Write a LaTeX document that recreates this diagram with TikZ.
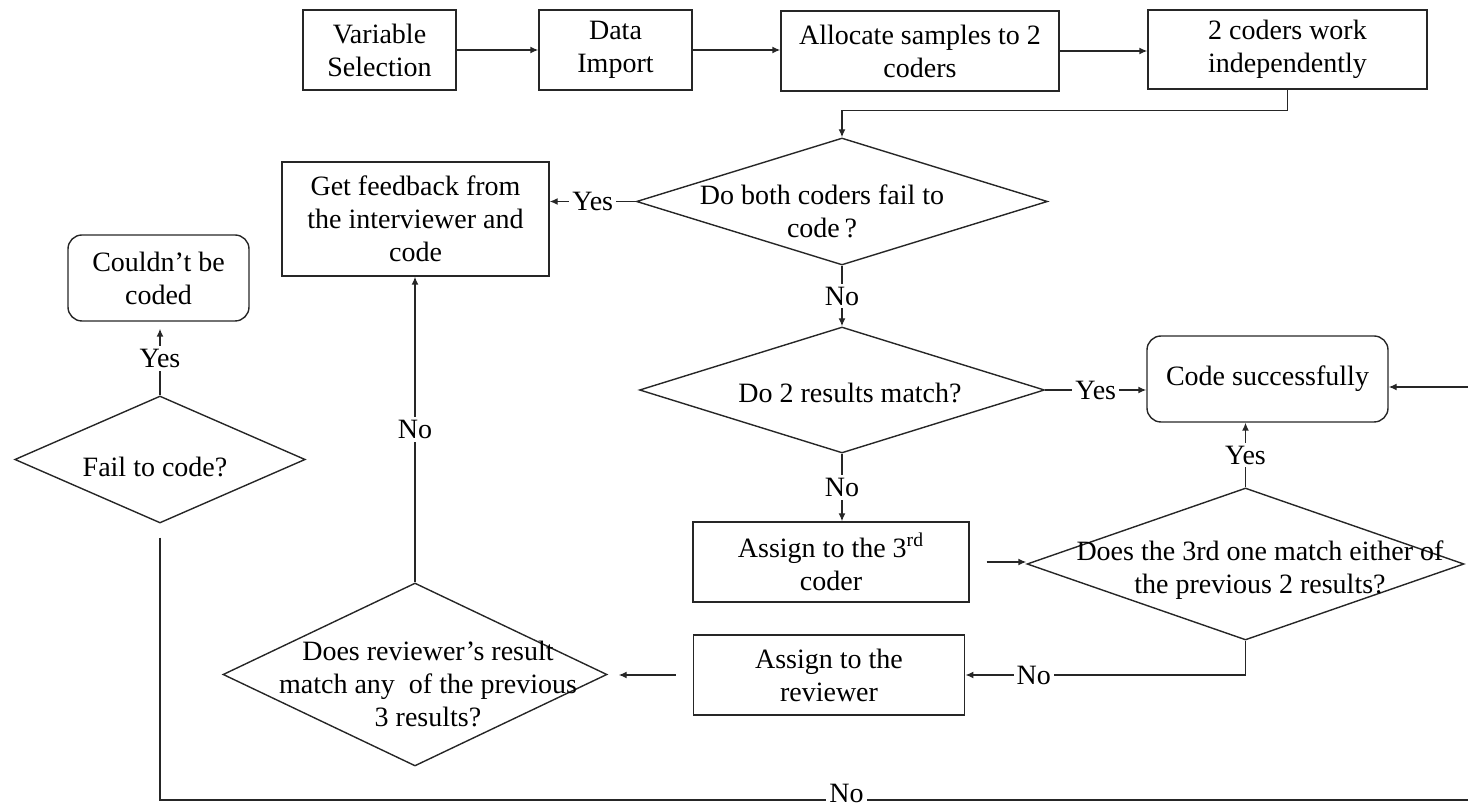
\documentclass[tikz,border=0pt]{standalone}
\usepackage{fontspec}
\setmainfont{Liberation Serif}
\usetikzlibrary{shapes.geometric,arrows.meta,calc}
\begin{document}
\begin{tikzpicture}[x=0.5pt,y=-0.5pt,
  every node/.style={font=\fontsize{14}{16.5}\selectfont},
  box/.style={draw=black!85, line width=0.7pt, rectangle, inner sep=0pt, align=center},
  rbox/.style={box, rounded corners=7pt},
  dia/.style={draw=black!85, line width=0.7pt, diamond, inner sep=0pt},
  txt/.style={align=center, inner sep=0pt},
  lab/.style={fill=white, inner sep=1.5pt},
  arr/.style={draw=black!85, line width=0.7pt, -{Latex[length=4pt,width=3.5pt]}}]
\useasboundingbox (0,0) rectangle (1468,806);

\node[box, minimum width=76.5pt, minimum height=40pt] (vs) at (379.5,50) {Variable\\Selection};
\node[box, minimum width=76.5pt, minimum height=40pt] (di) at (615.5,50) {Data\\Import};
\node[box, minimum width=139pt, minimum height=40pt] (al) at (920,51) {Allocate samples to 2\\coders};
\node[box, minimum width=139.5pt, minimum height=39.5pt] (tc) at (1287.5,49.5) {2 coders work\\independently};

\node[dia, minimum width=205.5pt, minimum height=63.5pt] (d1) at (842,201.5) {};
\node[txt] (d1t) at (822,211.5) {Do both coders fail to\\code\,?};
\node[box, minimum width=133.5pt, minimum height=57pt] (fb) at (415.5,219) {Get feedback from\\the interviewer and\\code};
\node[rbox, minimum width=90.5pt, minimum height=43pt] (cb) at (158.5,278) {Couldn’t be\\coded};
\node[dia, minimum width=145.25pt, minimum height=63.5pt] (fail) at (160,459.5) {};
\node[txt] (failt) at (155,467) {Fail to code?};
\node[dia, minimum width=202.5pt, minimum height=63pt] (d2) at (842,390) {};
\node[txt] (d2t) at (850,393) {Do 2 results match?};
\node[rbox, minimum width=120.5pt, minimum height=43pt] (code) at (1267.5,379) {Code successfully};
\node[box, minimum width=138pt, minimum height=40pt] (a3) at (831,562) {Assign to the 3\textsuperscript{rd}\\coder};
\node[dia, minimum width=218.5pt, minimum height=76pt] (d3) at (1245.5,564) {};
\node[txt] (d3t) at (1260,570.5) {Does the 3rd one match either of\\the previous 2 results?};
\node[box, minimum width=135.75pt, minimum height=40pt] (rv) at (829,675) {Assign to the\\reviewer};
\node[dia, minimum width=192pt, minimum height=91.5pt] (d4) at (415,674.5) {};
\node[txt] (d4t) at (428,683.5) {Does reviewer’s result\\match any~ of the previous\\3 results?};

\draw[arr] (vs.east) -- (vs.east -| di.west);
\draw[arr] (di.east) -- (di.east -| al.west);
\draw[arr] (al.east) -- (al.east -| tc.west);
\coordinate (j1) at ($(d1.north)+(0,-27)$);
\draw[arr] (tc.south) |- (j1) -- (d1.north);
\draw[arr] (d1.west) -- node[lab]{Yes} (d1.west -| fb.east);
\draw[arr] (d1.south) -- node[lab]{No} (d2.north);
\draw[arr] (d2.east) -- node[lab]{Yes} (d2.east -| code.west);
\draw[arr] (d2.south) -- node[lab]{No} (d2.south |- a3.north);
\draw[arr, shorten <=8.5pt] (a3.east) -- (a3.east -| d3.west);
\draw[arr] (d3.north) -- node[lab]{Yes} (d3.north |- code.south);
\draw[arr] (d3.south) |- node[lab,pos=0.878]{No} (rv.east);
\draw[arr, shorten <=8.5pt, shorten >=5.5pt] (rv.west) -- (rv.west -| d4.east);
\draw[arr] (d4.north) -- node[lab]{No} (d4.north |- fb.south);
\draw[arr, shorten >=3.5pt] (fail.north) -- node[lab]{Yes} (fail.north |- cb.south);
\coordinate (b1) at (fail.south |- 0,800);
\coordinate (b2) at (1470,800);
\coordinate (b3) at (1470,387);
\draw[arr, shorten <=7pt] (fail.south) -- (b1) -- node[lab,inner ysep=0pt,yshift=3.5pt,pos=0.524]{No} (b2) -- (b3) -- (b3 -| code.east);
\end{tikzpicture}
\end{document}
